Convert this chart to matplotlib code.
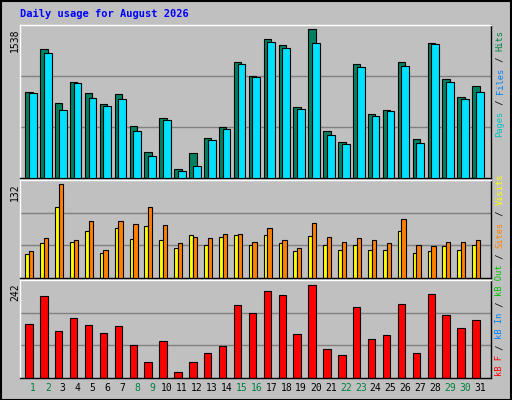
import numpy as np
import matplotlib
matplotlib.use('Agg')
import matplotlib.pyplot as plt

days = np.arange(1, 32)
weekend = [1, 2, 8, 9, 15, 16, 22, 23, 29, 30]
hits = [865, 1301, 754, 970, 855, 744, 845, 521, 257, 602, 95, 247, 402, 510, 1163,
        1028, 1396, 1332, 713, 1497, 470, 358, 1142, 642, 686, 1169, 389, 1355, 997, 815, 926]
files = [855, 1261, 683, 957, 804, 723, 794, 470, 226, 581, 74, 125, 379, 490, 1149,
         1017, 1372, 1311, 693, 1362, 429, 338, 1119, 622, 673, 1129, 348, 1342, 967, 794, 865]
visits = [33, 47, 95, 48, 63, 34, 67, 52, 70, 51, 41, 58, 44, 55, 58,
          44, 58, 47, 36, 56, 45, 38, 45, 38, 38, 63, 34, 37, 43, 38, 44]
sites = [36, 54, 126, 51, 77, 38, 77, 73, 95, 71, 47, 55, 54, 59, 59,
         49, 67, 51, 41, 74, 55, 48, 54, 51, 47, 80, 45, 43, 48, 49, 51]
kbytes = [134, 202, 117, 147, 132, 112, 129, 81, 39, 92, 16, 39, 61, 79, 180,
          160, 215, 205, 109, 230, 71, 56, 175, 97, 107, 182, 61, 207, 155, 124, 142]
max_hits, max_visits, max_kb = 1538, 132, 242

W, H = 512, 400
fig = plt.figure(figsize=(W / 100, H / 100), dpi=100)
fig.patch.set_facecolor('#C0C0C0')
fig.patches.append(plt.Rectangle((0.001, 0.001), 0.997, 0.997, transform=fig.transFigure,
                                 fill=False, edgecolor='black', lw=1.5))

def pax(x0, y0, x1, y1):
    return fig.add_axes([x0 / W, 1 - y1 / H, (x1 - x0) / W, (y1 - y0) / H])

mono = 'DejaVu Sans Mono'
xl = (0.128, 31.74)
lw = 0.8

def style(ax, ymax):
    ax.set_facecolor('#C0C0C0')
    ax.set_xlim(*xl)
    ax.set_ylim(0, ymax)
    ax.set_xticks([])
    ax.set_yticks([])
    for y in (ymax / 3, 2 * ymax / 3):
        ax.axhline(y, color='#808080', lw=1, zorder=0)
    for s in ax.spines.values():
        s.set_color('black')
        s.set_linewidth(1)
    ax.spines['top'].set_color('white')
    ax.spines['left'].set_color('white')

ax1 = pax(20, 25, 491, 178)
style(ax1, max_hits)
ax1.bar(days - 0.27, hits, width=0.5, color='#008060', edgecolor='black', lw=lw, zorder=2)
ax1.bar(days - 0.01, files, width=0.52, color='#00E0FF', edgecolor='black', lw=lw, zorder=3)

ax2 = pax(20, 180, 491, 278)
style(ax2, max_visits)
ax2.bar(days - 0.395, visits, width=0.25, color='#FFFF00', edgecolor='black', lw=lw, zorder=2)
ax2.bar(days - 0.125, sites, width=0.29, color='#FF8000', edgecolor='black', lw=lw, zorder=3)

ax3 = pax(20, 280, 491, 378)
style(ax3, max_kb)
ax3.bar(days - 0.27, kbytes, width=0.5, color='#FF0000', edgecolor='black', lw=lw, zorder=2)

fig.text(20 / W, 1 - 14 / H, 'Daily usage for August 2026', color='#0000FF', family=mono,
         weight='bold', fontsize=7.5, va='center')
for val, y in ((max_hits, 28), (max_visits, 183), (max_kb, 283)):
    fig.text(15 / W, 1 - y / H, str(val), rotation=90, family=mono, fontsize=7,
             ha='center', va='top')

for d in days:
    ax3.text(d, -0.1, str(d), transform=ax3.get_xaxis_transform(), ha='center', va='center',
             family=mono, fontsize=7, color='#008040' if d in weekend else 'black')

def vlegend(parts, ybottom):
    y = ybottom
    cw = 5.35
    for txt, col in parts:
        fig.text(500 / W, 1 - y / H, txt, rotation=90, color=col, family=mono, fontsize=6.3,
                 ha='center', va='bottom')
        y -= cw * len(txt)

vlegend([('Pages', '#00C0C0'), (' / ', 'black'), ('Files', '#0080FF'), (' / ', 'black'),
         ('Hits', '#008040')], 137)
vlegend([('kB F', '#FF0000'), (' / ', 'black'), ('kB In', '#0080FF'), (' / ', 'black'),
         ('kB Out', '#00C000'), (' / ', 'black'), ('Sites', '#FF8000'), (' / ', 'black'),
         ('Visits', '#FFFF00')], 376)

fig.savefig('out.png', dpi=100, facecolor=fig.get_facecolor())
